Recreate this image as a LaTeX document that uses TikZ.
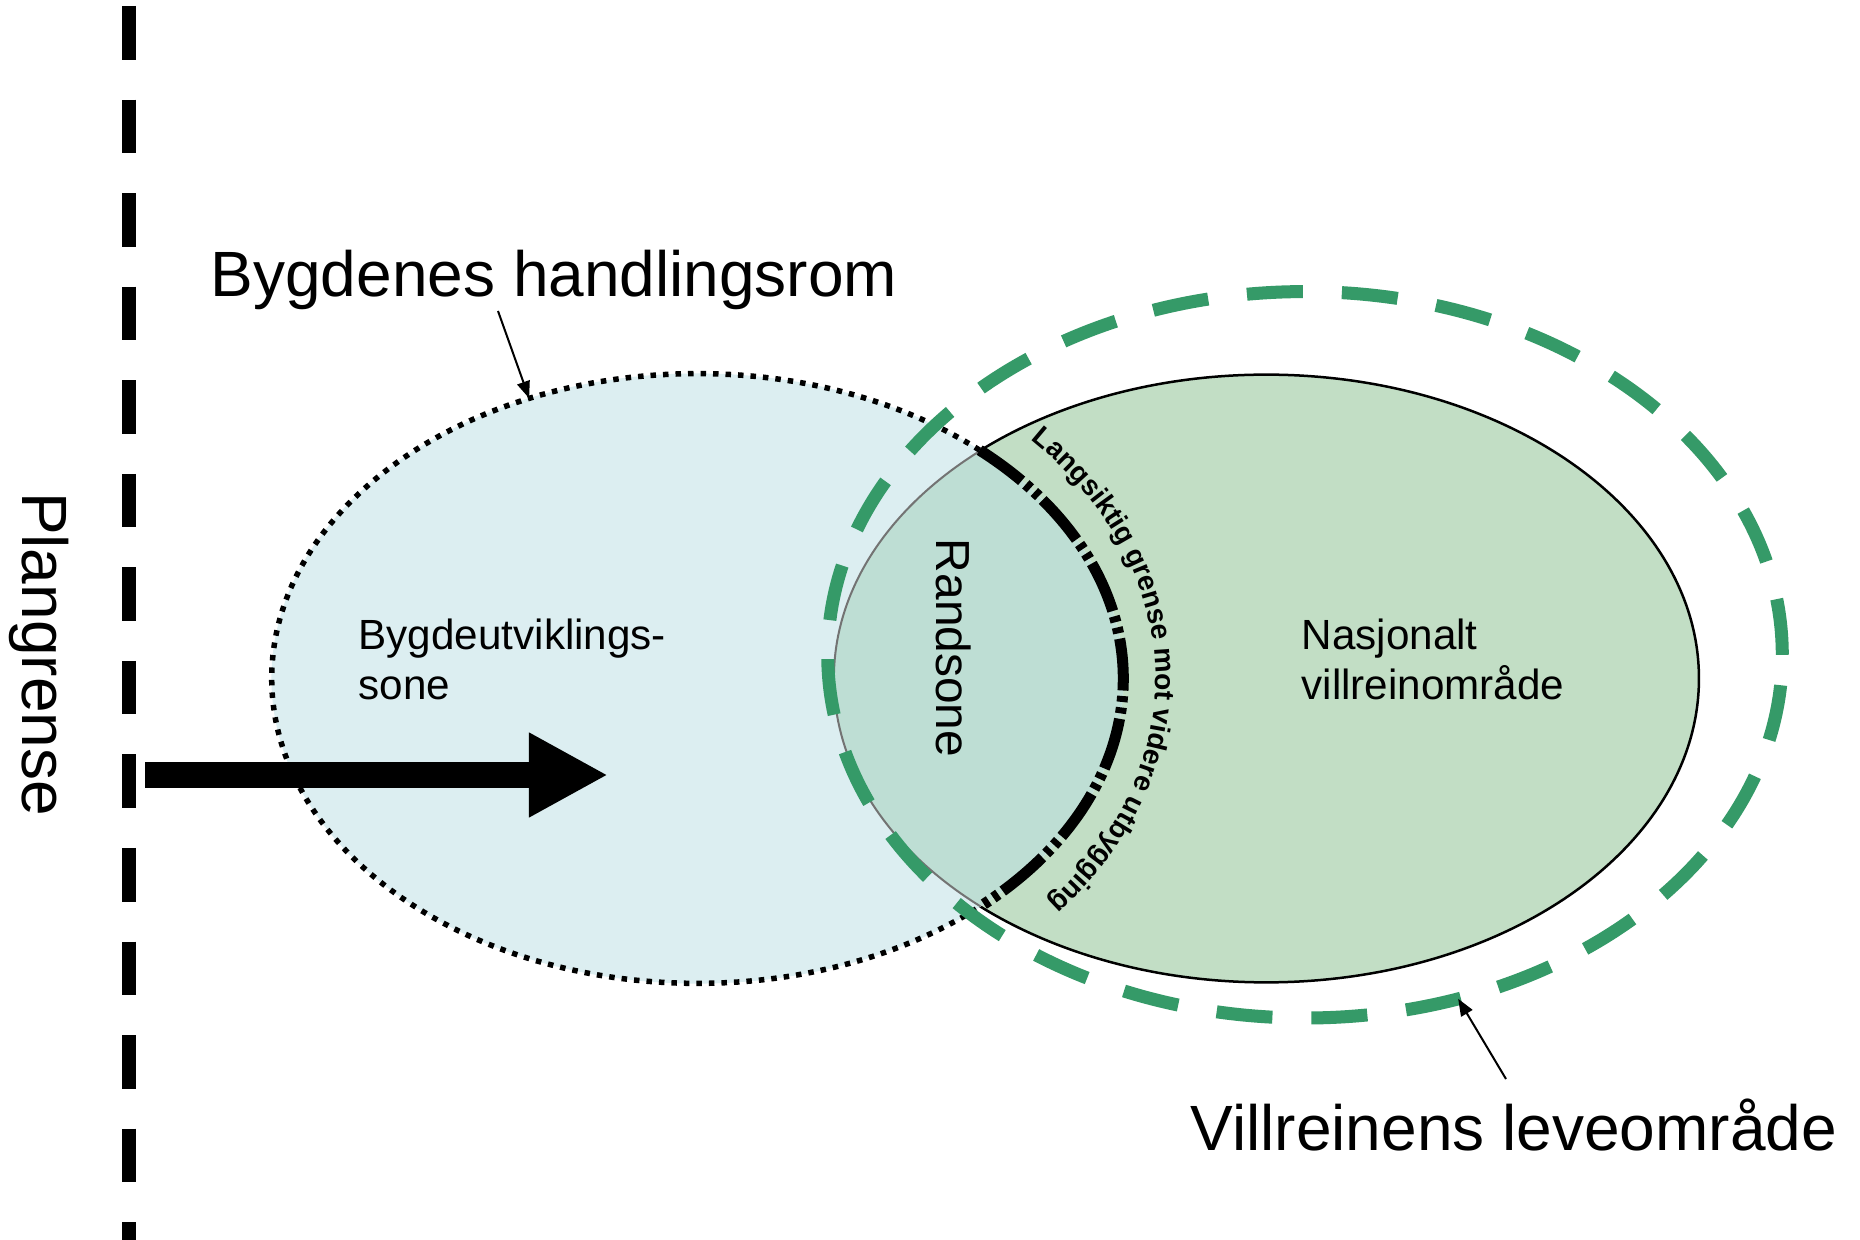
\documentclass[tikz,border=0pt]{standalone}
\usepackage{fontspec}
\setmainfont{Liberation Sans}
\usetikzlibrary{shapes.geometric,arrows.meta,decorations.text}
\definecolor{bluefill}{RGB}{220,238,241}
\definecolor{greenfill}{RGB}{194,222,197}
\definecolor{lensfill}{RGB}{190,222,212}
\definecolor{greenline}{RGB}{53,154,104}
\definecolor{grayline}{RGB}{115,115,115}
\tikzset{
  zone/.style={ellipse, inner sep=0pt, outer sep=0pt},
  titletext/.style={font=\fontsize{18.2}{21.8}\selectfont, inner sep=0pt, text=black},
  bodytext/.style={font=\fontsize{12}{14.2}\selectfont, inner sep=0pt, text=black},
  annot/.style={line width=0.02cm, -{Triangle[length=0.17cm,width=0.13cm]}},
  bigarrow/.style={line width=0.26cm, -{Triangle[length=0.79cm,width=0.79cm]}},
  dotline/.style={line width=0.055cm, dash pattern=on 0.055cm off 0.07cm},
  dashdotline/.style={line width=0.11cm, dash pattern=on 0.52cm off 0.055cm on 0.06cm off 0.055cm on 0.06cm off 0.055cm},
  greendash/.style={line width=0.13cm, draw=greenline, dash pattern=on 0.56cm off 0.39cm},
  planline/.style={line width=0.13cm, dash pattern=on 0.535cm off 0.40cm}
}
\begin{document}
\begin{tikzpicture}[x=0.01cm,y=0.01cm]
\useasboundingbox (0,0) rectangle (1860,-1240);
\fill[white] (0,0) rectangle (1860,-1240);
% green national area
\node[zone, fill=greenfill, draw=black, line width=0.025cm, minimum width=8.648cm, minimum height=6.074cm] (nasj) at (1266.3,-678.5) {};
% blue village area
\node[zone, fill=bluefill, minimum width=8.516cm, minimum height=6.098cm] (bygd) at (697.5,-678.5) {};
% lens
\begin{scope}
  \clip (1266.3,-678.5) ellipse [x radius=432.4, y radius=303.7];
  \fill[lensfill] (697.5,-678.5) ellipse [x radius=425.8, y radius=304.9];
\end{scope}
\begin{scope}
  \clip (697.5,-678.5) ellipse [x radius=425.8, y radius=304.9];
  \draw[grayline, line width=0.02cm] (1266.3,-678.5) ellipse [x radius=432.4, y radius=303.7];
\end{scope}
% blue outline: dotted outside, dash-dot inside
\draw[dotline] ([shift={(48.5:425.8 and 304.9)}]697.5,-678.5) arc[start angle=48.5, end angle=311.5, x radius=425.8, y radius=304.9];
\draw[dashdotline] ([shift={(48.5:425.8 and 304.9)}]697.5,-678.5) arc[start angle=48.5, end angle=-48.5, x radius=425.8, y radius=304.9];
% reindeer range
\node[zone, greendash, minimum width=9.54cm, minimum height=7.26cm] (leve) at (1305,-654.8) {};
% curved text
\path[decorate, decoration={text along path, text align=center,
  text={|\bfseries\fontsize{8}{9.6}\selectfont|Langsiktig grense mot videre utbygging}}]
  ([shift={(61.5:458 and 348)}]697.5,-678.5) arc[start angle=61.5, end angle=-58.5, x radius=458, y radius=348];
% texts
\node[titletext, anchor=base west] (tbyg) at (210,-297) {Bygdenes handlingsrom};
\node[titletext, anchor=base west] (tvill) at (1190,-1150) {Villreinens leveområde};
\node[titletext, rotate=-90, anchor=base] (tplan) at (22,-654) {Plangrense};
\node[font=\fontsize{13.6}{16.3}\selectfont, inner sep=0pt, rotate=-90, anchor=base] (trand) at (936,-648) {Randsone};
\node[bodytext, anchor=base west] (tbu1) at (358,-650) {Bygdeutviklings-};
\node[bodytext, anchor=base west] (tbu2) at (358,-700) {sone};
\node[bodytext, anchor=base west] (tna1) at (1301,-650) {Nasjonalt};
\node[bodytext, anchor=base west] (tna2) at (1301,-700) {villreinområde};
% annotation arrows
\coordinate (a1s) at (498,-311);
\coordinate (a2s) at (1506,-1079);
\draw[annot] (a1s) -- (bygd.121.5);
\draw[annot] (a2s) -- (leve.-66);
% big arrow
\coordinate (ar0) at (145,-775);
\coordinate (ar1) at (608,-775);
\draw[bigarrow] (ar0) -- (ar1);
% plan boundary
\coordinate (pl0) at (129,-6);
\coordinate (pl1) at (129,-1240);
\draw[planline] (pl0) -- (pl1);
\end{tikzpicture}
\end{document}
